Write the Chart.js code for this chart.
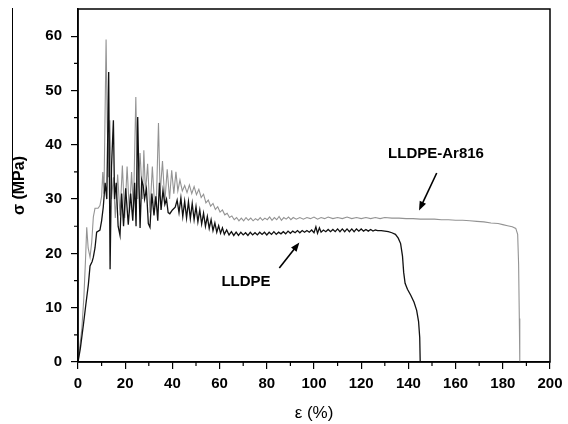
<!DOCTYPE html>
<html><head><meta charset="utf-8">
<script src="https://cdn.jsdelivr.net/npm/chart.js@4.4.1/dist/chart.umd.min.js"></script>
<style>html,body{margin:0;padding:0;background:#fff}#wrap{width:568px;height:424px;position:relative}</style>
</head><body><div id="wrap"><canvas id="c"></canvas></div>
<script>
const xTicksMajor = [0,20,40,60,80,100,120,140,160,180,200];
const yTicksMajor = [0,10,20,30,40,50,60];
const seriesNames = ['LLDPE','LLDPE-Ar816'];

const lldpeStrain = [0,1.0,2.3,3.3,4.4,5.1,6.0,6.5,7.2,7.9,9.3,10.0,10.7,11.5,12.2,13.0,13.6,14.2,15.0,15.5,16.2,17.0,17.8,18.5,19.3,20.2,21.3,22.3,23.2,24.0,24.6,25.3,25.9,26.3,27.0,27.6,28.2,29.0,29.8,30.5,31.3,32.2,33.0,33.8,34.5,35.2,36.0,36.8,37.5,38.2,38.9,40.0,41.2,42.0,42.8,43.6,44.4,45.2,46.0,46.8,47.6,48.4,49.2,50.0,50.8,51.6,52.4,53.2,54.0,54.8,55.6,56.4,57.2,58.0,58.8,59.6,60.4,61.2,62.0,63.0,64.0,65.0,66.0,67.0,68.0,69.0,70.0,71.0,72.0,73.0,74.0,75.0,76.0,77.0,78.0,79.0,80.0,81.0,82.0,83.0,84.0,85.0,86.0,87.0,88.0,89.0,90.0,91.0,92.0,93.0,94.0,95.0,96.0,97.0,98.0,99.0,100.0,100.8,101.5,102.3,103.0,104.0,105.0,106.0,107.0,108.0,109.0,110.0,111.0,112.0,113.0,114.0,115.0,116.0,117.0,118.0,119.0,120.0,121.0,122.0,123.0,124.0,125.0,126.0,127.0,128.5,130.0,131.5,133.0,134.5,135.7,136.7,137.5,138.0,138.6,139.6,141.0,142.4,143.5,144.3,144.8,145.0];
const lldpeStress = [0,2.5,6.9,10.5,14.3,17.7,18.5,19.3,21.0,23.9,24.3,26.0,28.5,33.0,30.0,53.4,17.1,36.0,44.5,30.0,33.0,25.0,23.3,31.0,25.0,32.0,25.3,31.0,26.0,33.0,25.0,45.1,32.0,24.7,33.5,32.5,30.0,31.8,25.5,24.8,31.0,27.0,30.5,26.0,33.0,28.0,31.6,29.0,30.0,27.5,27.3,28.0,28.5,29.8,27.5,30.2,26.8,29.6,26.5,29.5,26.4,29.2,26.2,28.6,25.8,28.0,25.4,27.4,25.0,26.8,24.6,26.2,24.2,25.6,23.9,25.1,23.7,24.7,23.5,24.3,23.4,24.0,23.3,23.9,23.3,23.9,23.4,23.8,23.3,23.9,23.4,23.8,23.4,23.9,23.5,23.9,23.4,23.9,23.5,24.0,23.5,23.9,23.6,24.0,23.6,24.1,23.7,24.1,23.8,24.2,23.8,24.2,23.9,24.2,23.9,24.3,23.8,24.9,23.7,24.7,23.9,24.3,24.0,24.4,24.0,24.4,24.0,24.5,24.0,24.5,24.0,24.5,24.0,24.5,24.0,24.5,24.1,24.5,24.1,24.4,24.1,24.4,24.1,24.3,24.2,24.2,24.1,24.0,23.8,23.5,22.8,21.8,19.5,16.5,14.5,13.4,12.3,11.0,9.5,7.5,4.5,0.0];

const arStrain = [0,0.8,1.6,2.5,3.2,3.7,4.3,5.1,5.8,6.5,7.2,8.5,9.3,10.0,10.5,11.0,11.9,12.4,12.9,13.5,14.2,15.0,15.8,16.8,17.8,18.8,19.8,20.8,21.8,22.7,23.5,24.5,25.3,26.3,27.3,27.9,28.6,29.5,30.5,31.5,32.5,33.3,34.1,34.8,35.8,36.8,37.8,38.8,39.7,40.6,41.5,42.3,43.2,44.2,45.2,46.2,47.2,48.2,49.2,50.2,51.2,52.2,53.2,54.2,55.2,56.2,57.2,58.2,59.2,60.2,61.2,62.2,63.2,64.2,65.2,66.2,67.2,68.2,69.2,70.2,71.2,72.2,73.2,74.2,75.2,76.2,77.2,78.2,79.2,80.2,81.2,82.2,83.2,84.2,85.2,86.2,87.2,88.2,89.2,90.2,91.2,92.5,94,95.5,97,98.5,100,101.5,103,104.5,106,108,110,112,114,116,118,120,122,124,126,128,130,133,136,139,142,145,148,151,154,157,160,163,166,169,172,175,178,180,182,184,185.5,186.3,186.7,187.0,187.2];
const arStress = [0,3.0,6.0,12.0,19.0,24.8,21.0,19.3,22.0,26.7,28.3,28.3,28.8,30.5,35.0,31.0,59.4,44.0,34.0,44.5,30.0,34.0,26.5,34.5,27.0,36.2,26.5,36.0,27.5,35.0,28.0,48.8,30.0,38.5,30.0,39.0,31.0,36.5,27.5,36.0,28.5,31.0,44.0,31.0,37.0,29.5,35.5,30.0,35.3,31.0,35.0,31.5,33.5,31.5,32.5,31.2,32.6,31.0,32.3,30.8,31.8,30.3,30.9,29.3,29.8,28.7,29.2,28.1,28.6,27.6,28.0,27.1,27.4,26.6,26.9,26.2,26.6,26.0,26.5,26.0,26.6,26.1,26.5,26.0,26.4,26.1,26.6,26.1,26.5,26.2,26.7,26.1,26.6,26.2,26.8,26.1,26.6,26.3,26.7,26.2,26.6,26.3,26.6,26.3,26.6,26.4,26.7,26.3,26.6,26.4,26.7,26.4,26.6,26.4,26.7,26.4,26.6,26.4,26.6,26.4,26.6,26.4,26.6,26.5,26.5,26.4,26.4,26.3,26.3,26.3,26.2,26.2,26.1,26.1,26.0,25.9,25.8,25.6,25.5,25.3,25.1,24.9,24.6,23.5,18.0,8.0,0.0];

const noteText = ['LLDPE-Ar816','LLDPE'];
const noteX = [151.7, 71.2];
const noteY = [38.3, 14.7];
const arrowFromX = [152.0, 85.3];
const arrowFromY = [34.8, 17.3];
const arrowToX = [144.5, 93.8];
const arrowToY = [27.9, 22.0];

const toPts = (xs, ys) => xs.map((x, i) => ({x: x, y: ys[i]}));

const FONT = '"Liberation Sans", Arial, sans-serif';

const decor = {
  id: 'decor',
  afterDraw(chart) {
    const {ctx, chartArea: a, scales} = chart;
    const xs = scales.x, ys = scales.y;
    ctx.save();
    ctx.strokeStyle = '#000';
    ctx.lineWidth = 1.5;
    ctx.strokeRect(a.left, a.top, a.right - a.left, a.bottom - a.top);
    ctx.lineWidth = 1.2;
    ctx.beginPath();
    for (let v = 10; v < 200; v += 20) {
      const p = xs.getPixelForValue(v);
      ctx.moveTo(p, a.bottom); ctx.lineTo(p, a.bottom + 4);
    }
    for (let v = 5; v < 65; v += 10) {
      const p = ys.getPixelForValue(v);
      ctx.moveTo(a.left, p); ctx.lineTo(a.left - 4, p);
    }
    ctx.stroke();
    ctx.lineWidth = 1;
    ctx.beginPath();
    ctx.moveTo(12.5, 8); ctx.lineTo(12.5, 197);
    ctx.stroke();
    ctx.fillStyle = '#000';
    ctx.font = 'bold 15px ' + FONT;
    ctx.textAlign = 'center';
    ctx.textBaseline = 'middle';
    for (let i = 0; i < noteText.length; i++) {
      ctx.fillText(noteText[i], xs.getPixelForValue(noteX[i]), ys.getPixelForValue(noteY[i]));
      const x1 = xs.getPixelForValue(arrowFromX[i]), y1 = ys.getPixelForValue(arrowFromY[i]);
      const x2 = xs.getPixelForValue(arrowToX[i]), y2 = ys.getPixelForValue(arrowToY[i]);
      const ang = Math.atan2(y2 - y1, x2 - x1);
      const hl = 9, hw = 3.5;
      ctx.lineWidth = 1.6;
      ctx.beginPath();
      ctx.moveTo(x1, y1);
      ctx.lineTo(x2 - Math.cos(ang) * hl * 0.7, y2 - Math.sin(ang) * hl * 0.7);
      ctx.stroke();
      ctx.beginPath();
      ctx.moveTo(x2, y2);
      ctx.lineTo(x2 - Math.cos(ang) * hl - Math.sin(ang) * hw, y2 - Math.sin(ang) * hl + Math.cos(ang) * hw);
      ctx.lineTo(x2 - Math.cos(ang) * hl + Math.sin(ang) * hw, y2 - Math.sin(ang) * hl - Math.cos(ang) * hw);
      ctx.closePath();
      ctx.fill();
    }
    ctx.restore();
  }
};

new Chart(document.getElementById('c'), {
  type: 'line',
  data: {
    datasets: [
      {label: seriesNames[0], data: toPts(lldpeStrain, lldpeStress), borderColor: '#111111', borderWidth: 1.3, pointRadius: 0, tension: 0, fill: false},
      {label: seriesNames[1], data: toPts(arStrain, arStress), borderColor: '#939393', borderWidth: 1.1, pointRadius: 0, tension: 0, fill: false}
    ]
  },
  options: {
    responsive: true,
    maintainAspectRatio: false,
    animation: false,
    devicePixelRatio: 1,
    layout: {padding: {left: 0, right: 18, top: 9, bottom: 0}},
    plugins: {legend: {display: false}, tooltip: {enabled: false}},
    scales: {
      x: {
        type: 'linear', min: 0, max: 200,
        afterFit: s => { s.height = 62; s.paddingLeft = 0; s.paddingRight = 0; },
        border: {display: true, color: '#000', width: 1.5},
        grid: {display: true, drawOnChartArea: false, drawTicks: true, tickLength: 7, lineWidth: 1.2,
               tickColor: c => (c.tick && xTicksMajor.includes(c.tick.value)) ? '#000' : 'rgba(0,0,0,0)'},
        ticks: {stepSize: 10, autoSkip: false, maxRotation: 0, padding: 6, color: '#000',
                font: {family: FONT, size: 15, weight: 'bold'},
                callback: v => xTicksMajor.includes(v) ? String(v) : ''},
        title: {display: true, text: 'ε (%)', color: '#000', padding: {top: 0, bottom: 0},
                font: {family: FONT, size: 17, weight: 'normal'}}
      },
      y: {
        type: 'linear', min: 0, max: 65,
        afterFit: s => { s.width = 78; s.paddingTop = 0; s.paddingBottom = 0; },
        border: {display: true, color: '#000', width: 1.5},
        grid: {display: true, drawOnChartArea: false, drawTicks: true, tickLength: 7, lineWidth: 1.2,
               tickColor: c => (c.tick && yTicksMajor.includes(c.tick.value)) ? '#000' : 'rgba(0,0,0,0)'},
        ticks: {stepSize: 5, autoSkip: false, padding: 9, color: '#000',
                font: {family: FONT, size: 15, weight: 'bold'},
                callback: v => yTicksMajor.includes(v) ? String(v) : ''},
        title: {display: true, text: 'σ (MPa)', color: '#000', padding: {top: 10, bottom: 0},
                font: {family: FONT, size: 16, weight: 'bold'}}
      }
    }
  },
  plugins: [decor]
});
</script></body></html>
